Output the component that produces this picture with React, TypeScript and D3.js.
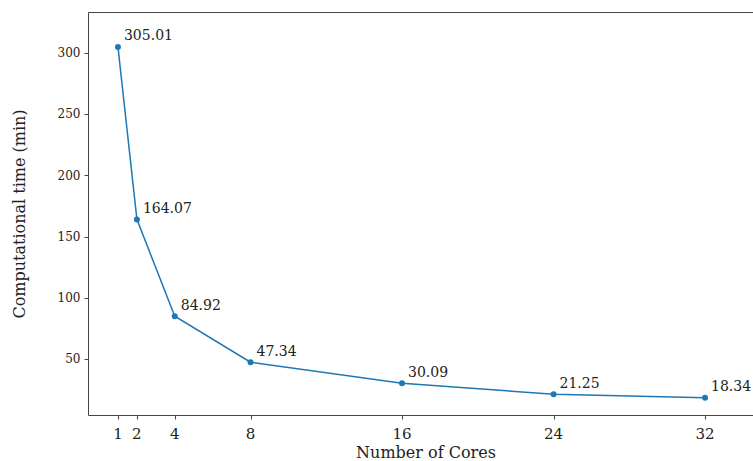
import React from "react";
import * as d3 from "d3";

const cores = [1, 2, 4, 8, 16, 24, 32];
const times = [305.01, 164.07, 84.92, 47.34, 30.09, 21.25, 18.34];
const xTicks = [1, 2, 4, 8, 16, 24, 32];
const yTicks = [50, 100, 150, 200, 250, 300];

const W = 753;
const H = 461;
const FONT = "'DejaVu Serif', serif";

export default function App() {
  const x = d3.scaleLinear().domain([-0.55, 33.55]).range([88.6, 734.4]);
  const y = d3.scaleLinear().domain([4.2, 333]).range([415, 12.7]);
  const line = d3
    .line<number>()
    .x((_, i) => x(cores[i]))
    .y((d) => y(d));
  const left = 88.5;
  const top = 12.5;
  const bottom = 415.5;
  const axisColor = "#444";
  return (
    <svg
      width={W}
      height={H}
      style={{ position: "absolute", left: 0, top: 0, background: "#fff" }}
    >
      <rect x={0} y={0} width={W} height={H} fill="#fff" />
      {/* frame */}
      <line x1={left} x2={W + 10} y1={top} y2={top} stroke={axisColor} strokeWidth={1} />
      <line x1={left} x2={W + 10} y1={bottom} y2={bottom} stroke={axisColor} strokeWidth={1} />
      <line x1={left} x2={left} y1={top} y2={bottom} stroke={axisColor} strokeWidth={1} />
      {/* y ticks */}
      {yTicks.map((t) => (
        <g key={"y" + t}>
          <line x1={left - 4} x2={left} y1={Math.round(y(t)) + 0.5} y2={Math.round(y(t)) + 0.5} stroke={axisColor} />
          <text
            x={left - 8}
            y={y(t)}
            dy="0.35em"
            textAnchor="end"
            fontFamily={FONT}
            fontSize={12}
            fill="#222"
          >
            {t}
          </text>
        </g>
      ))}
      {/* x ticks */}
      {xTicks.map((t) => (
        <g key={"x" + t}>
          <line x1={Math.round(x(t)) + 0.5} x2={Math.round(x(t)) + 0.5} y1={bottom} y2={bottom + 4} stroke={axisColor} />
          <text
            x={x(t)}
            y={bottom + 23}
            textAnchor="middle"
            fontFamily={FONT}
            fontSize={15}
            fill="#222"
          >
            {t}
          </text>
        </g>
      ))}
      {/* line */}
      <path d={line(times) || ""} fill="none" stroke="#1f77b4" strokeWidth={1.5} />
      {times.map((v, i) => (
        <g key={"p" + i}>
          <circle cx={x(cores[i])} cy={y(v)} r={3} fill="#1f77b4" />
          <text
            x={x(cores[i]) + 6}
            y={y(v) - 6.5}
            fontFamily={FONT}
            fontSize={14}
            fill="#222"
          >
            {v.toFixed(2)}
          </text>
        </g>
      ))}
      {/* axis labels */}
      <text
        x={426}
        y={458}
        textAnchor="middle"
        fontFamily={FONT}
        fontSize={16}
        fill="#222"
      >
        Number of Cores
      </text>
      <text
        transform={`translate(25, ${(top + bottom) / 2}) rotate(-90)`}
        textAnchor="middle"
        fontFamily={FONT}
        fontSize={16}
        fill="#222"
      >
        Computational time (min)
      </text>
    </svg>
  );
}
